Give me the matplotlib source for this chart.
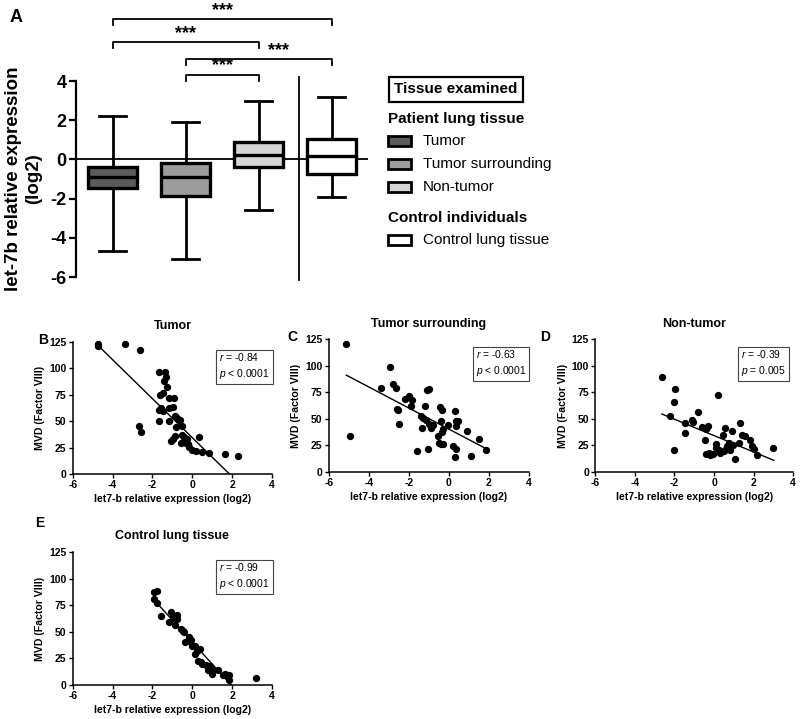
import numpy as np
import matplotlib
matplotlib.use("Agg")
import matplotlib.pyplot as plt
from matplotlib.patches import Rectangle

plt.rcParams['font.family'] = ['Liberation Sans', 'DejaVu Sans']
plt.rcParams['font.weight'] = 'bold'
plt.rcParams['axes.unicode_minus'] = False
plt.rcParams['mathtext.fontset'] = 'custom'
plt.rcParams['mathtext.it'] = 'Liberation Sans:style=italic:weight=normal'
plt.rcParams['mathtext.rm'] = 'Liberation Sans:weight=normal'

# --- Panel A: box plot summary (log2 let-7b expression) ---
groups = ["Tumor", "Tumor surrounding", "Non-tumor", "Control lung tissue"]
group_colors = ["#5c5c5c", "#9c9c9c", "#d6d6d6", "#ffffff"]
whislo = [-4.67, -5.09, -2.59, -1.91]
q1 = [-1.48, -1.87, -0.41, -0.72]
med = [-0.92, -0.89, 0.24, 0.19]
q3 = [-0.37, -0.20, 0.90, 1.02]
whishi = [2.21, 1.91, 2.98, 3.17]

# significance brackets: (group from, group to, label)
brackets = [(1, 4, "***"), (1, 3, "***"), (2, 4, "***"), (2, 3, "***")]
bracket_levels = [7.15, 5.98, 5.12, 4.31]
star_x = [2.5, 2.0, 3.28, 2.5]

# --- Panels B-E: MVD vs let7-b expression ---
bx = [-4.75, -4.75, -3.36, -2.61, -1.69, -1.36, -1.42, -1.32, -1.29, -1.64,
      -1.46, -1.15, -0.93, -1.69, -1.58, -1.46, -1.15, -0.98, -0.85, -0.75,
      -0.64, -1.69, -1.19, -0.81, -0.53, -2.68, -2.58, -0.51, -0.44, -0.88,
      -0.95, -1.07, -0.56, -0.44, -0.31, -0.22, -0.17, -0.27, -0.03, 0.20,
      0.34, 0.51, 0.85, 1.66, 2.27]
by = [123, 121, 123, 117, 97, 97, 88, 92, 82, 75,
      77, 72, 72, 61, 62, 60, 62, 63, 55, 53,
      51, 50, 50, 44, 45, 45, 40, 37, 35, 36,
      33, 31, 29, 31, 29, 28, 26, 33, 23, 22,
      35, 21, 20, 19, 17]

cx = [-5.12, -4.95, -2.95, -3.41, -2.79, -2.65, -2.57, -2.53, -2.48, -2.20,
      -1.98, -1.86, -1.90, -1.61, -1.39, -1.31, -1.34, -1.19, -1.11, -0.97,
      -1.14, -1.06, -1.01, -0.89, -0.81, -0.55, -0.50, -0.44, -0.35, -0.37,
      -0.34, -0.30, -0.39, -0.27, -0.05, 0.30, 0.34, 0.44, 0.34, 0.23,
      0.37, 0.32, 0.92, 1.11, 1.51, 1.88]
cy = [120, 34, 99, 79, 83, 79, 59, 58, 45, 69,
      71, 68, 62, 20, 53, 51, 41, 62, 77, 78,
      49, 22, 45, 41, 44, 34, 27, 61, 58, 48,
      38, 40, 26, 26, 44, 57, 48, 48, 43, 24,
      22, 14, 39, 15, 31, 21]

dx = [-2.63, -2.24, -1.96, -2.04, -2.04, -1.48, -1.48, -1.10, -1.06, -0.81,
      -0.59, -0.42, -0.30, -0.44, -0.42, -0.25, -0.22, -0.05, 0.08, 0.12,
      0.20, 0.25, 0.46, 0.54, 0.62, 0.66, 0.76, 0.79, 0.89, 0.96,
      1.05, 1.26, 1.30, 1.43, 1.59, 1.84, 1.94, 2.02, 2.18, 2.98,
      0.51, 0.32]
dy = [89, 53, 78, 66, 21, 46, 37, 49, 47, 56,
      42, 40, 43, 30, 17, 18, 16, 17, 23, 26,
      72, 21, 35, 41, 22, 24, 27, 21, 39, 25,
      12, 27, 46, 35, 34, 30, 24, 22, 16, 23,
      20, 18]

ex = [-1.92, -1.75, -1.92, -1.75, -1.58, -1.15, -1.07, -0.98, -0.86, -0.78,
      -0.78, -0.56, -0.47, -0.44, -0.39, -0.22, -0.17, -0.05, 0.00, 0.12,
      0.15, 0.24, 0.37, 0.29, 0.46, 0.51, 0.71, 0.80, 0.88, 0.97,
      1.02, 1.27, 1.53, 1.64, 1.76, 1.86, 1.86, 3.20]
ey = [87, 88, 81, 77, 65, 59, 69, 64, 56, 66,
      62, 53, 51, 50, 40, 41, 45, 42, 37, 37,
      29, 32, 34, 23, 22, 20, 19, 14, 18, 10,
      14, 14, 9, 10, 8, 9, 5, 7]

# regression line endpoints
fit_x = [[-4.75, 1.86], [-5.12, 1.96], [-2.63, 3.02], [-1.97, 1.95]]
fit_y = [[122, 0], [91, 21], [54.5, 11], [81, 0]]

titles = ["Tumor", "Tumor surrounding", "Non-tumor", "Control lung tissue"]
letters = ["B", "C", "D", "E"]
r_vals = ["-0.84", "-0.63", "-0.39", "-0.99"]
p_texts = ["< 0.0001", "< 0.0001", "= 0.005", "< 0.0001"]

fig = plt.figure(figsize=(8, 7.19), dpi=100)

# ---------------- Panel A ----------------
axA = fig.add_axes([0.095, 0.6147, 0.365, 0.2726])
positions = [1, 2, 3, 4]
stats = []
for i in range(len(groups)):
    stats.append(dict(label=groups[i], whislo=whislo[i], q1=q1[i], med=med[i],
                      q3=q3[i], whishi=whishi[i], fliers=[]))
axA.axhline(0, color='black', lw=1.3, zorder=0.5)
bp = axA.bxp(stats, positions=positions, widths=0.66, capwidths=0.38,
             patch_artist=True, showfliers=False,
             boxprops=dict(lw=2.4, edgecolor='black'),
             whiskerprops=dict(lw=2.0, color='black'),
             capprops=dict(lw=2.0, color='black'),
             medianprops=dict(lw=2.4, color='black'))
for patch, col in zip(bp['boxes'], group_colors):
    patch.set_facecolor(col)

axA.set_xlim(0.5, 4.5)
axA.set_ylim(-6, 4)
axA.set_yticks([-6, -4, -2, 0, 2, 4])
axA.tick_params(axis='y', labelsize=13, width=1.6, length=5, pad=2)
axA.tick_params(axis='x', bottom=False, labelbottom=False)
for s in ['top', 'right', 'bottom']:
    axA.spines[s].set_visible(False)
axA.spines['left'].set_linewidth(1.6)
axA.set_ylabel("let-7b relative expression\n(log2)", fontsize=13.5,
               fontweight='bold', linespacing=1.3)
axA.yaxis.set_label_coords(-0.115, 0.5)

# separator between patient and control groups
axA.plot([3.55, 3.55], [-6.15, 4.2], color='black', lw=1.3, clip_on=False)

for (g0, g1, lab), lev, sx in zip(brackets, bracket_levels, star_x):
    axA.plot([g0, g0, g1, g1], [lev - 0.3, lev, lev, lev - 0.3],
             color='black', lw=1.3, clip_on=False)
    axA.text(sx, lev + 0.02, lab, ha='center', va='bottom', fontsize=13,
             fontweight='bold', clip_on=False)

fig.text(0.012, 0.975, "A", fontsize=13, fontweight='bold', va='center')

# legend built by hand
fig.text(0.4925, 0.876, "Tissue examined", fontsize=11, fontweight='bold',
         va='center', ha='left',
         bbox=dict(boxstyle='square,pad=0.35', fc='white', ec='black', lw=1.6))
fig.text(0.485, 1 - 119 / 719, "Patient lung tissue", fontsize=11,
         fontweight='bold', va='center')
legend_y = [141, 164, 187, 240]
for i in range(len(groups)):
    yc = 1 - legend_y[i] / 719
    fig.add_artist(Rectangle((388 / 800, yc - 5 / 719), 23 / 800, 10 / 719,
                             transform=fig.transFigure, fc=group_colors[i],
                             ec='black', lw=2.0))
    fig.text(423 / 800, yc, groups[i], fontsize=11, fontweight='normal',
             va='center')
fig.text(0.485, 1 - 218 / 719, "Control individuals", fontsize=11,
         fontweight='bold', va='center')

# ---------------- Panels B-E ----------------
scatter_x = [bx, cx, dx, ex]
scatter_y = [by, cy, dy, ey]
axes_rects = [[0.091, 0.3408, 0.249, 0.1836],
              [0.411, 0.3435, 0.25, 0.185],
              [0.744, 0.3435, 0.2475, 0.185],
              [0.091, 0.0473, 0.249, 0.185]]
letter_pos = [(38, 340), (287, 337), (540, 337), (35, 523)]

for i in range(4):
    ax = fig.add_axes(axes_rects[i])
    ax.scatter(scatter_x[i], scatter_y[i], s=18, color='black', zorder=3,
               clip_on=False)
    ax.plot(fit_x[i], fit_y[i], color='black', lw=1.0)
    ax.set_xlim(-6, 4)
    ax.set_ylim(0, 125)
    ax.set_xticks([-6, -4, -2, 0, 2, 4])
    ax.set_yticks([0, 25, 50, 75, 100, 125])
    ax.tick_params(labelsize=7.5, width=1.0, length=3, pad=1.5)
    for s in ['top', 'right']:
        ax.spines[s].set_visible(False)
    for s in ['left', 'bottom']:
        ax.spines[s].set_linewidth(1.1)
    ax.set_xlabel("let7-b relative expression (log2)", fontsize=7.6,
                  fontweight='bold', labelpad=3)
    ax.set_ylabel("MVD (Factor VIII)", fontsize=7.6, fontweight='bold',
                  labelpad=3)
    ax.set_title(titles[i], fontsize=9, fontweight='bold', pad=9)
    ax.text(0.735, 0.93, r"$r$ = " + r_vals[i] + "\n" + r"$p$ " + p_texts[i],
            transform=ax.transAxes, fontsize=7.4, fontweight='normal',
            ha='left', va='top', linespacing=1.35,
            bbox=dict(boxstyle='square,pad=0.3', fc='white', ec='#444444',
                      lw=0.8))
    lx, ly = letter_pos[i]
    fig.text(lx / 800, 1 - ly / 719, letters[i], fontsize=10,
             fontweight='bold', va='center')

fig.savefig("out.png", dpi=100)
